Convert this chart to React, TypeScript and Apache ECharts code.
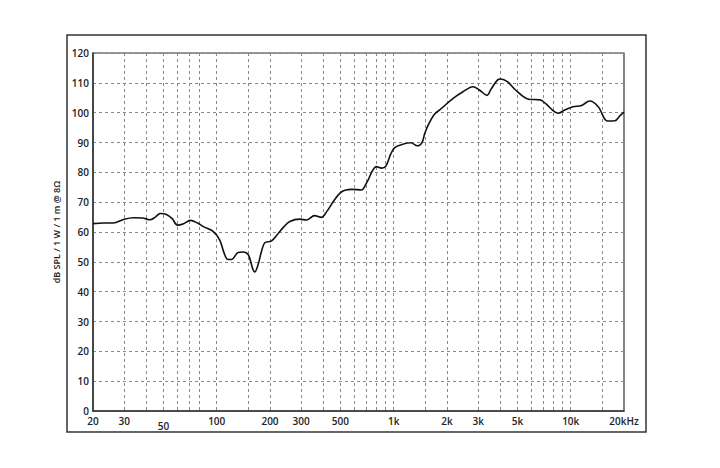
import React, { useEffect, useRef } from 'react';
import * as echarts from 'echarts';

// Frequency response (Hz, dB SPL)
const freqs = [
  20, 23, 26, 30, 34, 38, 42, 45, 48, 52, 56, 60, 65, 71, 78, 84, 95, 104, 110, 115,
  121, 132, 141, 151, 160, 164, 171, 180, 187, 204, 223, 240, 259, 294, 321, 357, 390, 420, 456, 508,
  578, 657, 700, 800, 853, 903, 960, 1013, 1123, 1250, 1360, 1442, 1497, 1570, 1700, 1826, 2166, 2463, 2802, 3048,
  3367, 3540, 3853, 4025, 4386, 4880, 5780, 6720, 7170, 8500, 9260, 10300, 11500, 12800, 14300, 16100, 17800, 19000, 20000,
];
const spl = [
  62.8, 63.0, 63.0, 64.3, 64.8, 64.7, 64.1, 65.0, 66.2, 65.9, 64.5, 62.3, 62.8, 63.9, 63.0, 61.8, 60.3, 57.3, 53.0, 50.9,
  50.8, 53.1, 53.3, 52.3, 47.5, 46.6, 48.9, 54.0, 56.4, 57.0, 59.6, 61.8, 63.5, 64.3, 64.0, 65.5, 64.9, 67.0, 70.2, 73.5,
  74.3, 74.1, 76.3, 81.9, 81.4, 82.1, 86.0, 88.3, 89.4, 89.9, 88.9, 89.9, 93.0, 96.0, 99.5, 101.0, 104.8, 107.0, 108.7, 107.6,
  105.8, 107.8, 110.9, 111.3, 110.4, 107.6, 104.5, 104.3, 103.2, 99.8, 100.9, 102.0, 102.4, 103.9, 102.0, 97.2, 97.3, 99.0, 100.2,
];

const gridFreqs = [
  20, 30, 40, 50, 60, 70, 80, 100, 150, 200, 300, 400, 500, 600, 700, 800, 900, 1000,
  1500, 2000, 3000, 4000, 5000, 6000, 7000, 8000, 9000, 10000, 15000, 20000,
];
const labelFreqs = [20, 30, 50, 100, 200, 300, 500, 1000, 2000, 3000, 5000, 10000, 20000];
const labelTexts = ['20', '30', '50', '100', '200', '300', '500', '1k', '2k', '3k', '5k', '10k', '20kHz'];
const loweredLabels = ['50'];

const yMin = 0;
const yMax = 120;
const yStep = 10;
const yName = 'dB SPL / 1 W / 1 m @ 8Ω';

const FONT = '"Open Sans", "Noto Sans", sans-serif';

export default function App() {
  const ref = useRef<HTMLDivElement>(null);

  useEffect(() => {
    document.body.style.margin = '0';
    if (!ref.current) return;
    const chart = echarts.init(ref.current, undefined, { renderer: 'svg' });
    const data = freqs.map((f, i) => [f, spl[i]]);
    chart.setOption({
      animation: false,
      backgroundColor: '#ffffff',
      grid: {
        left: 93,
        top: 53,
        right: 96,
        bottom: 57,
        show: true,
        borderColor: '#333',
        borderWidth: 1.2,
      },
      graphic: [
        {
          type: 'rect',
          shape: { x: 67, y: 35, width: 579, height: 397 },
          style: { fill: 'none', stroke: '#333', lineWidth: 1.5 },
          silent: true,
        },
      ],
      xAxis: {
        type: 'log',
        logBase: 10,
        min: 20,
        max: 20000,
        axisLine: { show: true, lineStyle: { color: '#333', width: 1.5 } },
        axisTick: { show: false, customValues: gridFreqs },
        minorTick: { show: false },
        splitLine: {
          show: true,
          lineStyle: { color: '#888', type: [3, 3], width: 1 },
        },
        axisLabel: {
          customValues: labelFreqs,
          margin: 5,
          color: '#222',
          fontSize: 10,
          fontWeight: 600,
          fontFamily: FONT,
          formatter: (v: number) => {
            let idx = 0;
            let best = Infinity;
            labelFreqs.forEach((f, i) => {
              const d = Math.abs(Math.log10(f) - Math.log10(v));
              if (d < best) { best = d; idx = i; }
            });
            const t = labelTexts[idx];
            return loweredLabels.includes(t) ? '{low|' + t + '}' : t;
          },
          rich: {
            low: {
              padding: [5, 0, 0, 0],
              color: '#222',
              fontSize: 10,
              fontWeight: 600,
              fontFamily: FONT,
            },
          },
        },
      },
      yAxis: {
        type: 'value',
        min: yMin,
        max: yMax,
        interval: yStep,
        name: yName,
        nameLocation: 'middle',
        nameGap: 30,
        nameTextStyle: { color: '#222', fontSize: 9, fontWeight: 600, fontFamily: FONT },
        axisLine: { show: true, lineStyle: { color: '#333', width: 1.5 } },
        axisTick: { show: false },
        axisLabel: {
          margin: 4,
          color: '#222',
          fontSize: 10,
          fontWeight: 600,
          fontFamily: FONT,
        },
        splitLine: {
          show: true,
          lineStyle: { color: '#888', type: [3, 3], width: 1 },
        },
      },
      series: [
        {
          type: 'line',
          data,
          smooth: 0.35,
          showSymbol: false,
          symbol: 'none',
          lineStyle: { color: '#111', width: 1.6 },
          z: 5,
        },
      ],
    });
    return () => chart.dispose();
  }, []);

  return <div ref={ref} style={{ width: 720, height: 468 }} />;
}
